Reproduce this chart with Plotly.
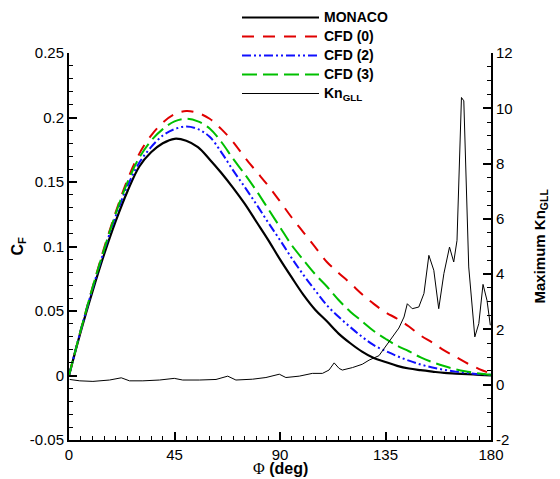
import plotly.graph_objects as go

# ---------------- data ----------------
phi = [0, 5, 10, 15, 20, 25, 30, 35, 40, 45, 50, 55, 60, 65, 70, 75, 80, 85, 90,
       95, 100, 105, 110, 115, 120, 125, 130, 135, 140, 145, 150, 155, 160, 165,
       170, 175, 180]

monaco = [0.0, 0.034, 0.065, 0.094, 0.120, 0.143, 0.162, 0.173, 0.180, 0.1835,
          0.182, 0.177, 0.1675, 0.157, 0.1455, 0.133, 0.119, 0.105, 0.090, 0.076,
          0.0625, 0.051, 0.042, 0.0325, 0.025, 0.0185, 0.0135, 0.0105, 0.0075,
          0.0054, 0.0041, 0.003, 0.002, 0.0015, 0.001, 0.0005, 0.0]

cfd0 = [0.0, 0.035, 0.068, 0.099, 0.127, 0.152, 0.172, 0.186, 0.196, 0.2025,
        0.205, 0.2035, 0.199, 0.191, 0.181, 0.169, 0.158, 0.147, 0.135, 0.1225,
        0.111, 0.0995, 0.088, 0.0795, 0.0715, 0.063, 0.0555, 0.049, 0.044,
        0.038, 0.031, 0.0255, 0.0195, 0.0144, 0.0093, 0.005, 0.0015]

cfd2 = [0.0, 0.035, 0.067, 0.097, 0.124, 0.147, 0.165, 0.177, 0.186, 0.191,
        0.193, 0.191, 0.185, 0.173, 0.159, 0.146, 0.1325, 0.1185, 0.105, 0.091,
        0.078, 0.066, 0.0545, 0.0455, 0.0375, 0.030, 0.0235, 0.019, 0.015,
        0.0115, 0.0085, 0.0062, 0.0044, 0.003, 0.002, 0.001, 0.0005]

cfd3 = [0.0, 0.035, 0.068, 0.098, 0.126, 0.150, 0.169, 0.182, 0.191, 0.197,
        0.199, 0.197, 0.1915, 0.181, 0.168, 0.156, 0.143, 0.129, 0.115, 0.101,
        0.0895, 0.0785, 0.069, 0.0585, 0.0495, 0.042, 0.0345, 0.0285, 0.023,
        0.0188, 0.014, 0.0103, 0.0073, 0.0048, 0.003, 0.0015, 0.0005]

kn_phi = [0.3, 4.6, 10.2, 17.3, 22.3, 25.8, 31.5, 38.6, 44.9, 48.5, 55.6, 62.7,
          67.7, 71.2, 78.3, 84.0, 89.7, 92.5, 98.2, 103.8, 108.1, 110.9, 113.1,
          115.2, 116.6, 120.9, 125.1, 128.0, 132.2, 135.1, 137.9, 140.7, 142.9,
          144.3, 146.4, 149.2, 151.4, 153.5, 155.6, 157.7, 159.9, 162.3, 164.1,
          165.5, 167.4, 168.4, 170.5, 173.1, 174.8, 176.6, 178.3, 179.7]
kn_val = [0.19, 0.14, 0.12, 0.17, 0.25, 0.14, 0.14, 0.17, 0.23, 0.17, 0.17, 0.19,
          0.31, 0.17, 0.20, 0.26, 0.38, 0.26, 0.31, 0.41, 0.41, 0.53, 0.79,
          0.59, 0.53, 0.62, 0.74, 0.89, 1.05, 1.40, 1.73, 2.05, 2.45,
          2.93, 2.75, 2.81, 3.30, 4.68, 4.14, 2.75, 4.02, 4.98, 4.44,
          5.22, 10.39, 10.27, 4.26, 1.73, 2.21, 3.63, 3.05, 2.15]

x_ticks = [0, 45, 90, 135, 180]
x_labels = ["0", "45", "90", "135", "180"]
y_ticks = [-0.05, 0, 0.05, 0.1, 0.15, 0.2, 0.25]
y_labels = ["-0.05", "0", "0.05", "0.1", "0.15", "0.2", "0.25"]
y2_ticks = [-2, 0, 2, 4, 6, 8, 10, 12]
y2_labels = ["-2", "0", "2", "4", "6", "8", "10", "12"]

FONT = "Arial, Liberation Sans, sans-serif"


def leg(name):
    # larger visible text while the legend rows keep a compact spacing
    return "<span style='font-size:14px'><b>" + name + "</b></span>"


fig = go.Figure()
fig.add_trace(go.Scatter(x=phi, y=monaco, name=leg("MONACO"), mode="lines",
                         line=dict(color="black", width=2.2, shape="spline")))
fig.add_trace(go.Scatter(x=phi, y=cfd0, name=leg("CFD (0)"), mode="lines",
                         line=dict(color="#e00000", width=2, dash="12px,9px",
                                   shape="spline")))
fig.add_trace(go.Scatter(x=phi, y=cfd2, name=leg("CFD (2)"), mode="lines",
                         line=dict(color="#1010ff", width=2,
                                   dash="9px,3px,2px,3px,2px,3px", shape="spline")))
fig.add_trace(go.Scatter(x=phi, y=cfd3, name=leg("CFD (3)"), mode="lines",
                         line=dict(color="#00c000", width=2, dash="15px,6px",
                                   shape="spline")))
fig.add_trace(go.Scatter(x=kn_phi, y=kn_val, name=leg("Kn<sub>GLL</sub>"),
                         mode="lines", yaxis="y2",
                         line=dict(color="black", width=1)))

axis_common = dict(showgrid=False, zeroline=False, showline=True, linecolor="black",
                   linewidth=2, ticks="inside", ticklen=8, tickwidth=2,
                   tickcolor="black", tickfont=dict(family=FONT, size=15, color="black"))

fig.update_layout(
    width=560, height=479,
    margin=dict(l=69, r=69, t=53, b=39, autoexpand=False),
    paper_bgcolor="white", plot_bgcolor="white",
    font=dict(family=FONT, color="black"),
    xaxis=dict(range=[0, 180], tickvals=x_ticks, ticktext=x_labels,
               minor=dict(dtick=5, ticks="inside", ticklen=4, tickwidth=1,
                          tickcolor="black"),
               **axis_common),
    yaxis=dict(range=[-0.05, 0.25], tickvals=y_ticks, ticktext=y_labels,
               minor=dict(dtick=0.01, tick0=0, ticks="inside", ticklen=4,
                          tickwidth=1, tickcolor="black"),
               **axis_common),
    yaxis2=dict(range=[-2, 12], tickvals=y2_ticks, ticktext=y2_labels,
                overlaying="y", side="right",
                minor=dict(dtick=0.5, tick0=0, ticks="inside", ticklen=4,
                           tickwidth=1, tickcolor="black"),
                **axis_common),
    showlegend=True,
    legend=dict(x=(237 - 69) / 422, y=1 + 50 / 387, xanchor="left", yanchor="top",
                bgcolor="rgba(0,0,0,0)", itemwidth=77,
                font=dict(family=FONT, size=11, color="black"),
                tracegroupgap=0),
    annotations=[
        dict(text="<b>C<sub>F</sub></b>", xref="paper", yref="paper", x=0, y=0.5,
             xanchor="center", yanchor="middle", xshift=-51, textangle=-90,
             showarrow=False, font=dict(family=FONT, size=16, color="black")),
        dict(text="<b>Maximum Kn<sub>GLL</sub></b>", xref="paper", yref="paper",
             x=1, y=0.5, xanchor="center", yanchor="middle", xshift=49,
             textangle=-90, showarrow=False,
             font=dict(family=FONT, size=15, color="black")),
        dict(text="<span style='font-family:Liberation Serif, DejaVu Serif, serif'>Φ</span> <b>(deg)</b>",
             xref="paper", yref="paper", x=0.5, y=0, xanchor="center",
             yanchor="middle", yshift=-28, showarrow=False,
             font=dict(family=FONT, size=16, color="black")),
    ],
)

fig.write_html("out.html")
